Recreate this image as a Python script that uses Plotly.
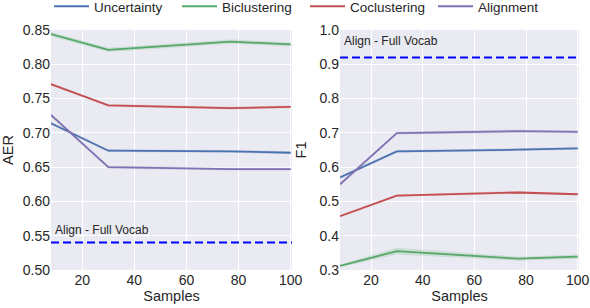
import plotly.graph_objects as go
from plotly.subplots import make_subplots

# ---- data ----
samples = [8, 30, 77, 100]
series_names = ["Uncertainty", "Biclustering", "Coclustering", "Alignment"]
aer_uncertainty = [0.714, 0.674, 0.673, 0.671]
aer_biclustering = [0.844, 0.821, 0.833, 0.829]
aer_coclustering = [0.771, 0.740, 0.736, 0.738]
aer_alignment = [0.726, 0.650, 0.647, 0.647]
aer_band = [[0.002, 0.002, 0.002, 0.002], [0.003, 0.003, 0.003, 0.003],
            [0.001, 0.002, 0.002, 0.002], [0.002, 0.002, 0.002, 0.002]]
f1_uncertainty = [0.570, 0.646, 0.651, 0.655]
f1_biclustering = [0.312, 0.355, 0.333, 0.339]
f1_coclustering = [0.457, 0.517, 0.526, 0.521]
f1_alignment = [0.550, 0.699, 0.705, 0.703]
f1_band = [[0.004, 0.004, 0.004, 0.004], [0.004, 0.010, 0.006, 0.006],
           [0.003, 0.003, 0.004, 0.003], [0.004, 0.004, 0.005, 0.004]]
full_vocab_aer = 0.54
full_vocab_f1 = 0.92
annot_text = "Align - Full Vocab"
annot_x = 10
annot_y_aer = 0.55
annot_y_f1 = 0.95

colors = ["#4C72B0", "#55A868", "#C44E52", "#8172B2"]
band_colors = ["rgba(76,114,176,0.2)", "rgba(85,168,104,0.2)",
               "rgba(196,78,82,0.2)", "rgba(129,114,178,0.2)"]
FONT = "Liberation Sans, Arial, Helvetica, sans-serif"
TXT = "#262626"

fig = make_subplots(rows=1, cols=2)

aer_all = [aer_uncertainty, aer_biclustering, aer_coclustering, aer_alignment]
f1_all = [f1_uncertainty, f1_biclustering, f1_coclustering, f1_alignment]

for col, (vals_all, bands) in enumerate([(aer_all, aer_band), (f1_all, f1_band)], start=1):
    for i, (name, vals) in enumerate(zip(series_names, vals_all)):
        upper = [v + b for v, b in zip(vals, bands[i])]
        lower = [v - b for v, b in zip(vals, bands[i])]
        fig.add_trace(go.Scatter(x=samples + samples[::-1], y=upper + lower[::-1],
                                 fill="toself", fillcolor=band_colors[i],
                                 line=dict(width=0), mode="lines",
                                 hoverinfo="skip", showlegend=False),
                      row=1, col=col)
        fig.add_trace(go.Scatter(x=samples, y=vals, mode="lines", name=name,
                                 line=dict(color=colors[i], width=1.8),
                                 showlegend=(col == 1)),
                      row=1, col=col)

fig.add_hline(y=full_vocab_aer, line=dict(color="#0000FF", width=2, dash="8px,4px"), row=1, col=1)
fig.add_hline(y=full_vocab_f1, line=dict(color="#0000FF", width=2, dash="8px,4px"), row=1, col=2)

fig.add_annotation(x=annot_x, y=annot_y_aer, xref="x", yref="y", text=annot_text,
                   showarrow=False, xanchor="left", yanchor="bottom", yshift=-3, xshift=-3,
                   font=dict(size=12, color=TXT, family=FONT))
fig.add_annotation(x=annot_x, y=annot_y_f1, xref="x2", yref="y2", text=annot_text,
                   showarrow=False, xanchor="left", yanchor="bottom", yshift=-3, xshift=-3,
                   font=dict(size=12, color=TXT, family=FONT))

W, H = 590, 308
dom_y = [1 - 270 / H, 1 - 30 / H]
axis_common = dict(showgrid=True, gridcolor="white", gridwidth=1.3, zeroline=False,
                   showline=False, ticks="", tickfont=dict(size=14, color=TXT, family=FONT))
fig.update_layout(
    width=W, height=H, margin=dict(l=0, r=0, t=0, b=0, autoexpand=False),
    paper_bgcolor="white", plot_bgcolor="#EAEAF2",
    font=dict(family=FONT, color=TXT),
    xaxis=dict(domain=[51 / W, 292 / W], range=[8, 100.5], tickvals=[20, 40, 60, 80, 100],
               title=dict(text="Samples", font=dict(size=14.5, color=TXT), standoff=3), **axis_common),
    xaxis2=dict(domain=[340 / W, 579 / W], range=[8, 100.5], tickvals=[20, 40, 60, 80, 100],
                title=dict(text="Samples", font=dict(size=14.5, color=TXT), standoff=3), **axis_common),
    yaxis=dict(domain=dom_y, range=[0.5, 0.85], tickvals=[0.5, 0.55, 0.6, 0.65, 0.7, 0.75, 0.8, 0.85],
               tickformat=".2f",
               title=dict(text="AER", font=dict(size=14.5, color=TXT), standoff=13), **axis_common),
    yaxis2=dict(domain=dom_y, range=[0.3, 1.0], tickvals=[0.3, 0.4, 0.5, 0.6, 0.7, 0.8, 0.9, 1.0],
                tickformat=".1f",
                title=dict(text="F1", font=dict(size=14.5, color=TXT), standoff=9), **axis_common),
    legend=dict(orientation="h", x=49 / W, xanchor="left", y=1 - 6.5 / H, yanchor="middle",
                font=dict(size=13.5, color=TXT, family=FONT), entrywidth=78,
                bgcolor="rgba(0,0,0,0)", itemwidth=35),
    showlegend=True,
)

fig.write_html("out.html", config={"displayModeBar": False},
               post_script="document.body.style.margin='0';")
